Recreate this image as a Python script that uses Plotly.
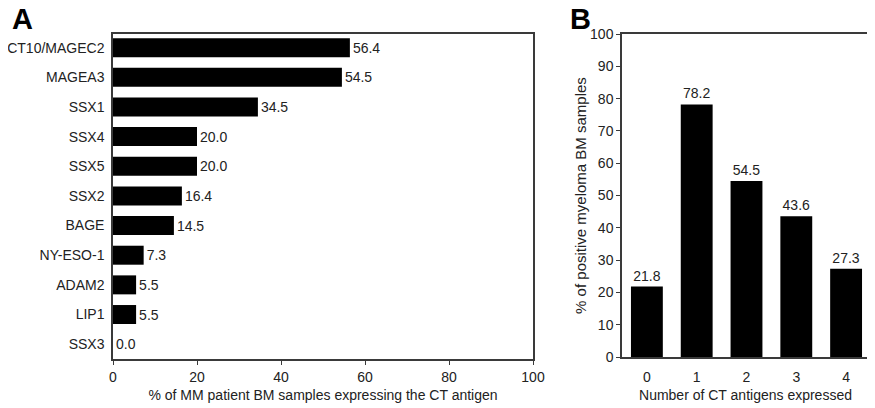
import plotly.graph_objects as go

# Panel A data
antigens = ["CT10/MAGEC2", "MAGEA3", "SSX1", "SSX4", "SSX5", "SSX2", "BAGE",
            "NY-ESO-1", "ADAM2", "LIP1", "SSX3"]
pct_expressing = [56.4, 54.5, 34.5, 20.0, 20.0, 16.4, 14.5, 7.3, 5.5, 5.5, 0.0]
a_ticks = [0, 20, 40, 60, 80, 100]

# Panel B data
n_antigens = [0, 1, 2, 3, 4]
pct_positive = [21.8, 78.2, 54.5, 43.6, 27.3]
b_ticks = [0, 10, 20, 30, 40, 50, 60, 70, 80, 90, 100]

OFF = 8  # page body margin
W, H = 875 - OFF, 408 - OFF
FONT = "Liberation Sans, Arial, sans-serif"
LINE = "#3a3a3a"
TXT = "#222"

def px_x(p):
    return (p - OFF) / W

def px_y(p):
    return 1 - (p - OFF) / H

fig = go.Figure()

fig.add_trace(go.Bar(
    x=pct_expressing, y=antigens, orientation="h",
    marker=dict(color="black", line=dict(width=0)),
    width=0.64,
    text=[f"{v:.1f}" for v in pct_expressing],
    textposition="outside", cliponaxis=False, constraintext="none",
    textfont=dict(family=FONT, size=14, color=TXT),
    xaxis="x", yaxis="y", showlegend=False,
))

fig.add_trace(go.Bar(
    x=n_antigens, y=pct_positive,
    marker=dict(color="black", line=dict(width=0)),
    width=0.64,
    text=[f"{v:.1f}" for v in pct_positive],
    textposition="outside", cliponaxis=False, constraintext="none",
    textfont=dict(family=FONT, size=14, color=TXT),
    xaxis="x2", yaxis="y2", showlegend=False,
))

axis_common = dict(showline=True, linecolor=LINE, linewidth=1.5, mirror=True,
                   showgrid=False, zeroline=False, automargin=False,
                   tickfont=dict(family=FONT, size=14, color=TXT))

fig.update_layout(
    template="none",
    width=W, height=H,
    margin=dict(l=0, r=0, t=0, b=0),
    paper_bgcolor="white", plot_bgcolor="white",
    font=dict(family=FONT, size=14, color=TXT),
    xaxis=dict(domain=[px_x(113), px_x(533)], range=[0, 100],
               tickvals=a_ticks, ticks="outside", ticklen=4, tickcolor=LINE,
               tickwidth=1.2,
               title=dict(text="% of MM patient BM samples expressing the CT antigen",
                          font=dict(family=FONT, size=14, color=TXT), standoff=7),
               anchor="y", **axis_common),
    yaxis=dict(domain=[px_y(359), px_y(34)], type="category",
               categoryorder="array", categoryarray=antigens,
               range=[10.5, -0.46], ticks="", ticklabelstandoff=4,
               anchor="x", **axis_common),
    xaxis2=dict(domain=[px_x(622), px_x(869)], range=[-0.5, 4.46],
                tickvals=n_antigens, ticks="", ticklabelstandoff=6,
                title=dict(text="Number of CT antigens expressed",
                           font=dict(family=FONT, size=14, color=TXT), standoff=7),
                anchor="y2", **axis_common),
    yaxis2=dict(domain=[px_y(357), px_y(34)], range=[0, 100],
                tickvals=b_ticks, ticks="outside", ticklen=4, tickcolor=LINE,
                tickwidth=1.2,
                title=dict(text="% of positive myeloma BM samples",
                           font=dict(family=FONT, size=15, color=TXT), standoff=0),
                anchor="x2", **axis_common),
    annotations=[
        dict(text="<b>A</b>", x=px_x(10), y=px_y(19), xref="paper", yref="paper",
             xanchor="left", yanchor="middle", showarrow=False,
             font=dict(family=FONT, size=29, color="black")),
        dict(text="<b>B</b>", x=px_x(568), y=px_y(19), xref="paper", yref="paper",
             xanchor="left", yanchor="middle", showarrow=False,
             font=dict(family=FONT, size=29, color="black")),
    ],
)

fig.write_html("out.html")
